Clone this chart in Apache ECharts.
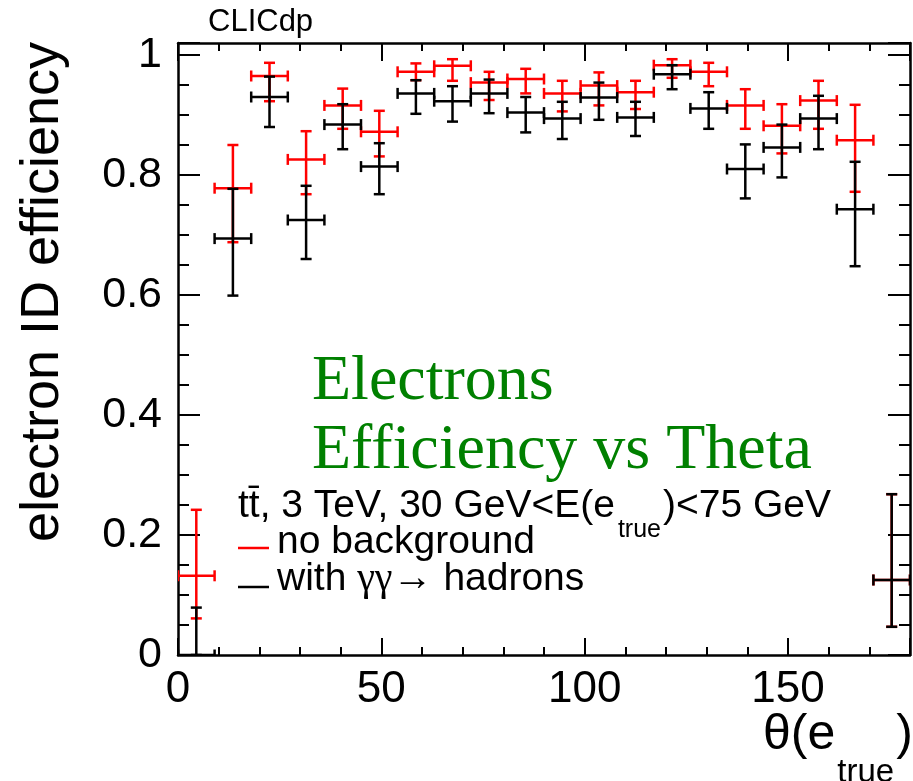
<!DOCTYPE html>
<html>
<head>
<meta charset="utf-8">
<script src="https://cdn.jsdelivr.net/npm/echarts@6/dist/echarts.min.js"></script>
<style>
html,body{margin:0;padding:0;background:#fff;}
#chart{width:913px;height:781px;}
</style>
</head>
<body>
<div id="chart"></div>
<script>
// ---- data ----
const binWidth = 9;
const thetaCenters = [4.5, 13.5, 22.5, 31.5, 40.5, 49.5, 58.5, 67.5, 76.5, 85.5, 94.5, 103.5, 112.5, 121.5, 130.5, 139.5, 148.5, 157.5, 166.5, 175.5];
const noBkgEff  = [0.132, 0.778, 0.965, 0.826, 0.916, 0.872, 0.972, 0.982, 0.954, 0.960, 0.936, 0.949, 0.938, 0.983, 0.972, 0.916, 0.882, 0.924, 0.858, 0.125];
const noBkgHigh = [0.242, 0.850, 0.987, 0.873, 0.944, 0.907, 0.986, 0.993, 0.972, 0.977, 0.957, 0.971, 0.957, 0.993, 0.987, 0.943, 0.918, 0.957, 0.917, 0.268];
const noBkgLow  = [0.061, 0.688, 0.923, 0.768, 0.877, 0.831, 0.958, 0.957, 0.925, 0.936, 0.906, 0.916, 0.910, 0.962, 0.948, 0.877, 0.836, 0.877, 0.772, 0.047];
const withBkgEff  = [0.000, 0.694, 0.930, 0.725, 0.884, 0.814, 0.936, 0.923, 0.936, 0.904, 0.894, 0.929, 0.896, 0.968, 0.911, 0.810, 0.846, 0.894, 0.743, 0.125];
const withBkgHigh = [0.079, 0.777, 0.964, 0.782, 0.918, 0.853, 0.958, 0.948, 0.959, 0.930, 0.922, 0.954, 0.922, 0.983, 0.938, 0.851, 0.884, 0.932, 0.822, 0.268];
const withBkgLow  = [0.000, 0.599, 0.880, 0.660, 0.843, 0.768, 0.902, 0.889, 0.903, 0.871, 0.860, 0.892, 0.865, 0.943, 0.877, 0.761, 0.796, 0.843, 0.648, 0.047];
const xTickLabels = [0, 50, 100, 150];
const yTickLabels = ['0', '0.2', '0.4', '0.6', '0.8', '1'];

// ---- helpers ----
const SANS = "'Liberation Sans', Arial, Helvetica, sans-serif";
const SERIF = "'Liberation Serif', 'Times New Roman', serif";
const measureCtx = document.createElement('canvas').getContext('2d');
function textWidth(str, font) { measureCtx.font = font; return measureCtx.measureText(str).width; }
function midY(baseline, fs, serif) { return baseline - (serif ? 0.3375 : 0.3465) * fs; }

function buildData(eff, low, high) {
  return thetaCenters.map((t, i) => [t, eff[i], low[i], high[i]]);
}

function makeRender(color) {
  return function (params, api) {
    const x = api.value(0), y = api.value(1), lo = api.value(2), hi = api.value(3);
    const half = binWidth / 2;
    const l = api.coord([x - half, y]);
    const r = api.coord([x + half, y]);
    const t = api.coord([x, hi]);
    const b = api.coord([x, lo]);
    const cap = 5.5;
    const st = { stroke: color, lineWidth: 2.5, lineCap: 'butt' };
    const lines = [
      [l[0], l[1], r[0], r[1]],
      [t[0], t[1], b[0], b[1]],
      [l[0], l[1] - cap, l[0], l[1] + cap],
      [r[0], r[1] - cap, r[0], r[1] + cap],
      [t[0] - cap, t[1], t[0] + cap, t[1]],
      [b[0] - cap, b[1], b[0] + cap, b[1]]
    ];
    return {
      type: 'group',
      children: lines.map(s => ({ type: 'line', shape: { x1: s[0], y1: s[1], x2: s[2], y2: s[3] }, style: st }))
    };
  };
}

const chart = echarts.init(document.getElementById('chart'), null, { renderer: 'canvas' });

const frameLine = { show: true, onZero: false, lineStyle: { color: '#000', width: 2.5 } };
const noLine = { show: false, onZero: false };
function xAx(pos, interval, len, labels) {
  return {
    type: 'value', position: pos, min: 0, max: 180, interval: interval,
    axisLine: interval === 10 ? frameLine : noLine,
    axisTick: { show: true, inside: true, length: len, lineStyle: { color: '#000', width: 2 } },
    axisLabel: labels ? {
      show: true, margin: 13, fontSize: 44, fontFamily: SANS, color: '#000',
      formatter: v => (xTickLabels.indexOf(v) >= 0 ? String(v) : '')
    } : { show: false },
    splitLine: { show: false }
  };
}
function yAx(pos, interval, len, labels) {
  return {
    type: 'value', position: pos, min: 0, max: 1.02, interval: interval,
    axisLine: interval === 0.05 ? frameLine : noLine,
    axisTick: { show: true, inside: true, length: len, lineStyle: { color: '#000', width: 2 } },
    axisLabel: labels ? {
      show: true, margin: 16, fontSize: 43, fontFamily: SANS, color: '#000',
      formatter: v => {
        const k = Math.round(v / 0.2);
        if (Math.abs(v / 0.2 - k) > 1e-6 || k < 0 || k >= yTickLabels.length) return '';
        return yTickLabels[k];
      }
    } : { show: false },
    splitLine: { show: false }
  };
}

// legend / annotation layout
const legFs = 39, subFs = 25;
const legFont = legFs + 'px ' + SANS;
const subFont = subFs + 'px ' + SANS;
const leg1a = 'tt\u0304, 3 TeV, 30 GeV<E(e';
const legX = 238;
const leg1aW = textWidth(leg1a, legFont);
const subW = textWidth('true', subFont);
const withW = textWidth('with ', legFont);
const greekFs = 40;
const greekFont = greekFs + 'px ' + SERIF;
const greekW = textWidth('\u03b3\u03b3\u2192', greekFont);

const titleFs = 50, titleSubFs = 33;
const titleFont = titleFs + 'px ' + SANS;
const titleSubFont = titleSubFs + 'px ' + SANS;
const titleX = 763;
const titleAW = textWidth('\u03b8(e', titleFont);
const titleSubW = textWidth('true', titleSubFont);

function txt(str, x, baseline, fs, fam, color) {
  const serif = fam === SERIF;
  return {
    type: 'text', x: x, y: midY(baseline, fs, serif), silent: true,
    style: { text: str, font: fs + 'px ' + fam, fill: color, align: 'left', verticalAlign: 'middle', textAlign: 'left', textVerticalAlign: 'middle' }
  };
}

const option = {
  animation: false,
  backgroundColor: '#fff',
  grid: { left: 178, top: 43, width: 732, height: 612, containLabel: false },
  xAxis: [xAx('bottom', 10, 8, false), xAx('bottom', 50, 17, true), xAx('top', 10, 8, false), xAx('top', 50, 18, false)],
  yAxis: [yAx('left', 0.05, 11, false), yAx('left', 0.2, 22, true), yAx('right', 0.05, 11, false), yAx('right', 0.2, 22, false)],
  series: [
    { name: 'no background', type: 'custom', xAxisIndex: 0, yAxisIndex: 0, clip: true,
      renderItem: makeRender('#ff0000'), data: buildData(noBkgEff, noBkgLow, noBkgHigh), z: 3 },
    { name: 'with γγ→ hadrons', type: 'custom', xAxisIndex: 0, yAxisIndex: 0, clip: true,
      renderItem: makeRender('#000000'), data: buildData(withBkgEff, withBkgLow, withBkgHigh), z: 4 }
  ],
  graphic: [
    txt('CLICdp', 208, 33, 31, SANS, '#000'),
    // y axis title
    { type: 'text', x: 43, y: 292, rotation: Math.PI / 2, silent: true,
      style: { text: 'electron ID efficiency', font: '54px ' + SANS, fill: '#000', align: 'center', verticalAlign: 'middle', textAlign: 'center', textVerticalAlign: 'middle' } },
    // x axis title
    txt('\u03b8(e', titleX, 753, titleFs, SANS, '#000'),
    txt('true', titleX + titleAW + 2, 784, titleSubFs, SANS, '#000'),
    txt(')', titleX + titleAW + titleSubW + 4, 753, titleFs, SANS, '#000'),
    // green labels
    txt('Electrons', 312, 404, 64, SERIF, '#008000'),
    txt('Efficiency vs Theta', 312, 473, 64, SERIF, '#008000'),
    // legend
    txt(leg1a, legX, 520, legFs, SANS, '#000'),
    txt('true', legX + leg1aW + 3, 539, subFs, SANS, '#000'),
    txt(')<75 GeV', legX + leg1aW + subW + 5, 520, legFs, SANS, '#000'),
    { type: 'line', silent: true, shape: { x1: 238, y1: 548, x2: 269, y2: 548 }, style: { stroke: '#ff0000', lineWidth: 2.5 } },
    txt('no background', 277, 556, legFs, SANS, '#000'),
    { type: 'line', silent: true, shape: { x1: 238, y1: 587, x2: 269, y2: 587 }, style: { stroke: '#000000', lineWidth: 2.5 } },
    txt('with ', 277, 593, legFs, SANS, '#000'),
    txt('\u03b3\u03b3\u2192', 277 + withW, 593, greekFs, SERIF, '#000'),
    txt(' hadrons', 277 + withW + greekW, 593, legFs, SANS, '#000')
  ]
};
chart.setOption(option);
</script>
</body>
</html>
